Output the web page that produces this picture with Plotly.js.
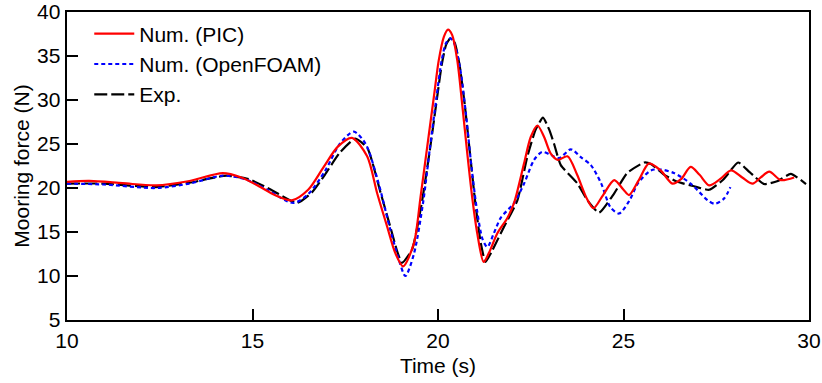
<!DOCTYPE html>
<html>
<head>
<meta charset="utf-8">
<script src="https://cdn.plot.ly/plotly-3.0.1.min.js"></script>
<style>html,body{margin:0;padding:0;background:#fff;}#chart{width:822px;height:383px;}</style>
</head>
<body>
<div id="chart"></div>
<script>
// Num. (PIC)
const picTime  = [10.0,10.6,11.5,12.4,13.3,14.2,14.7,15.2,15.6,16.06,16.5,16.92,17.3,17.68,18.09,18.36,18.63,18.85,19.06,19.35,19.53,19.71,19.89,20.02,20.16,20.27,20.38,20.52,20.65,20.79,20.92,21.06,21.23,21.37,21.6,21.87,22.05,22.32,22.5,22.68,22.86,23.04,23.23,23.49,23.75,24.0,24.19,24.45,24.75,25.0,25.15,25.4,25.69,26.0,26.32,26.55,26.81,27.05,27.31,27.6,27.9,28.2,28.48,28.7,28.93,29.24,29.6];
const picForce = [20.7,20.8,20.55,20.3,20.8,21.7,21.2,20.15,19.2,18.6,19.8,22.4,24.7,25.7,23.6,19.4,15.6,12.6,11.1,13.7,19.0,24.7,30.4,34.5,37.2,38.0,37.4,34.5,29.6,23.9,19.0,14.8,11.6,12.6,14.85,16.6,18.3,22.8,25.8,27.1,25.8,23.9,23.2,23.6,21.5,18.9,17.7,19.2,20.9,19.8,19.2,20.8,22.8,22.0,20.5,21.0,22.4,21.5,20.3,21.0,22.0,21.2,20.5,21.2,21.85,20.9,21.2];

// Num. (OpenFOAM)
const foamTime  = [10.0,11.0,12.4,13.3,14.2,14.8,15.4,16.1,16.5,16.95,17.35,17.73,18.05,18.4,18.7,18.95,19.12,19.35,19.6,19.78,19.95,20.1,20.22,20.34,20.45,20.6,20.75,20.9,21.05,21.2,21.33,21.5,21.69,22.05,22.32,22.59,22.81,23.04,23.27,23.58,23.85,24.12,24.4,24.65,24.88,25.15,25.4,25.74,26.0,26.36,26.81,27.27,27.46,27.71,27.88];
const foamForce = [20.5,20.4,20.0,20.5,21.4,21.0,19.8,18.3,19.3,21.9,25.0,26.4,25.0,20.5,15.5,11.8,10.0,12.5,18.4,24.5,30.0,34.5,36.5,37.0,36.3,33.5,28.5,22.5,17.5,14.2,13.3,14.8,16.6,18.3,20.5,23.2,24.1,23.75,23.4,24.4,23.5,22.6,20.5,17.8,17.1,18.5,20.6,22.0,22.1,21.7,20.5,18.6,18.2,18.8,20.1];

// Exp.
const expTime  = [10.0,11.0,12.4,13.3,14.3,14.9,15.5,16.2,16.6,16.95,17.35,17.77,18.1,18.45,18.72,18.9,19.03,19.3,19.55,19.78,19.95,20.1,20.22,20.33,20.45,20.58,20.72,20.86,21.0,21.15,21.28,21.45,21.78,22.14,22.41,22.63,22.83,23.0,23.13,23.31,23.76,24.03,24.34,24.75,25.1,25.56,25.75,26.1,26.45,26.9,27.31,27.7,28.09,28.4,28.79,29.16,29.51,29.92];
const expForce = [20.5,20.5,20.1,20.6,21.4,21.0,19.8,18.3,19.5,21.5,24.0,25.6,24.5,19.5,15.5,12.8,11.5,13.0,18.0,24.3,29.5,34.0,36.3,37.0,36.5,34.0,29.5,24.0,18.5,13.8,11.6,12.8,15.6,18.6,23.6,26.6,28.0,26.6,25.0,22.6,20.5,18.6,17.2,19.4,21.7,22.9,22.7,21.5,20.7,20.2,19.8,21.0,22.9,21.8,20.45,20.8,21.6,20.45];

const xTicks = [10,15,20,25,30];
const yTicks = [5,10,15,20,25,30,35,40];

const FONT = 'Liberation Sans, Arial, Helvetica, sans-serif';

const traces = [
  {x: expTime, y: expForce, name: 'Exp.', mode: 'lines',
   line: {color: '#000000', width: 2.2, dash: '13px,4px', shape: 'spline', smoothing: 0.5}},
  {x: foamTime, y: foamForce, name: 'Num. (OpenFOAM)', mode: 'lines',
   line: {color: '#0000ff', width: 2.2, dash: '4px,3px', shape: 'spline', smoothing: 0.8}},
  {x: picTime, y: picForce, name: 'Num. (PIC)', mode: 'lines',
   line: {color: '#ff0000', width: 2.2, shape: 'spline', smoothing: 0.8}}
];

const layout = {
  width: 822, height: 383,
  margin: {l: 67, r: 13, t: 12, b: 63},
  paper_bgcolor: '#fff', plot_bgcolor: '#fff',
  font: {family: FONT, size: 21, color: '#000'},
  showlegend: true,
  legend: {x: 0.03, y: 0.995, xanchor: 'left', yanchor: 'top', traceorder: 'reversed',
           bgcolor: 'rgba(0,0,0,0)', borderwidth: 0, font: {family: FONT, size: 21, color: '#000'},
           itemwidth: 40},
  xaxis: {range: [10, 30], tickvals: xTicks, ticktext: xTicks.map(String),
          ticks: 'inside', ticklen: 11, tickwidth: 2, tickcolor: '#000',
          showline: true, linewidth: 2.4, linecolor: '#000', mirror: true,
          showgrid: false, zeroline: false,
          tickfont: {family: FONT, size: 21, color: '#000'},
          title: {text: 'Time (s)', font: {family: FONT, size: 21, color: '#000'}, standoff: 8}},
  yaxis: {range: [5, 40], tickvals: yTicks, ticktext: yTicks.map(String),
          ticks: 'inside', ticklen: 11, tickwidth: 2, tickcolor: '#000',
          showline: true, linewidth: 2.4, linecolor: '#000', mirror: true,
          showgrid: false, zeroline: false,
          tickfont: {family: FONT, size: 21, color: '#000'},
          title: {text: 'Mooring force (N)', font: {family: FONT, size: 21, color: '#000'}, standoff: 2}}
};

Plotly.newPlot('chart', traces, layout, {displayModeBar: false, staticPlot: true});
</script>
</body>
</html>
